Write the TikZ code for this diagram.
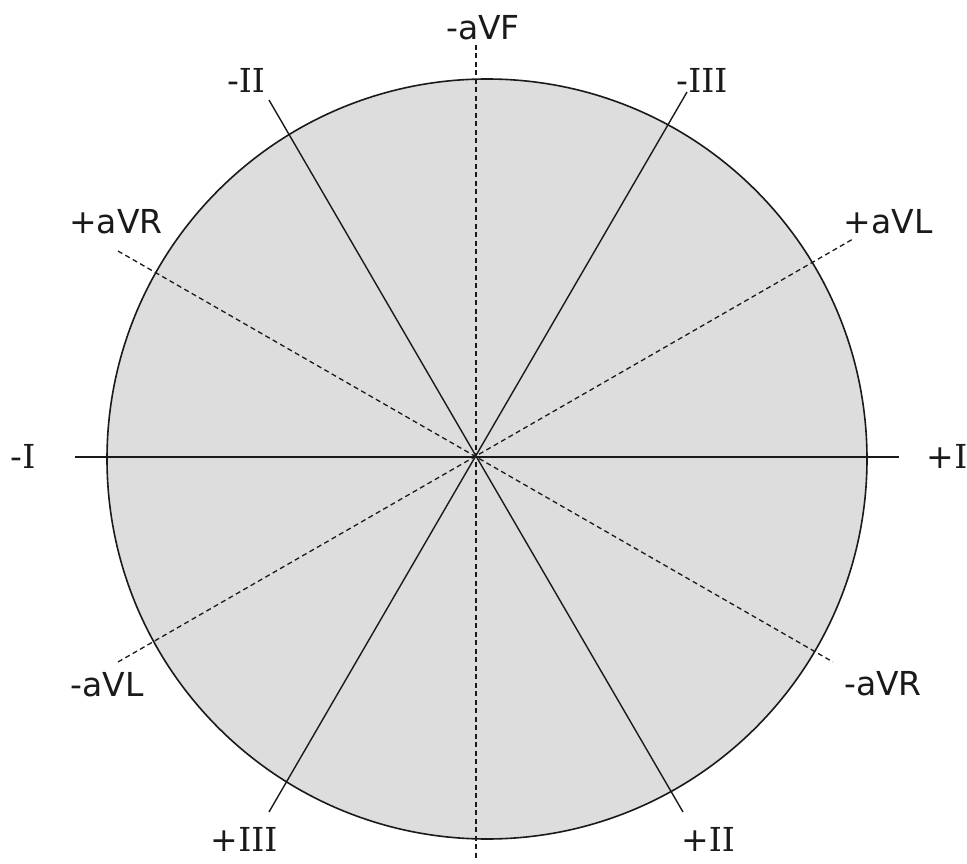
\documentclass[tikz,border=0pt]{standalone}
\usepackage{fontspec}
\setmainfont{DejaVu Sans}
\newfontfamily\romI{DejaVu Serif}
\newcommand{\RI}[1]{{\romI #1}}
\definecolor{diskfill}{HTML}{DDDDDD}
\definecolor{ink}{HTML}{1A1A1A}
\begin{document}
\begin{tikzpicture}[x=1pt,y=-1pt,
  solidlead/.style={draw=ink, line width=1.4pt},
  dashlead/.style={draw=ink, line width=1.3pt, dash pattern=on 5pt off 3.5pt},
  leadlabel/.style={inner sep=0pt, text=ink, font=\fontsize{33}{33}\selectfont}]
\useasboundingbox (0,0) rectangle (967,864);
\fill[white] (0,0) rectangle (967,864);
\node[circle, minimum size=760pt, inner sep=0pt, draw=ink, line width=1.6pt, fill=diskfill] (disk) at (487,459) {};
\coordinate (ctr) at (476,457);
% end points
\coordinate (mI) at (75,457);
\coordinate (pI) at (899,457);
\coordinate (maVF) at (476,45);
\coordinate (paVF) at (476,859);
\coordinate (mII) at (269,100);
\coordinate (pII) at (683,812);
\coordinate (mIII) at (687,92);
\coordinate (pIII) at (269,812);
\coordinate (paVR) at (118,251);
\coordinate (maVR) at (833,662);
\coordinate (maVL) at (118,662);
\coordinate (paVL) at (853,239);
% lead axes
\draw[dashlead] (maVF) -- (paVF);
\draw[dashlead] (paVR) -- (maVR);
\draw[dashlead] (maVL) -- (paVL);
\draw[solidlead] (mI) -- (pI);
\draw[solidlead] (mII) -- (pII);
\draw[solidlead] (mIII) -- (pIII);
% labels
\node[leadlabel] (tmaVF) at (483,28) {-aVF};
\node[leadlabel] (tmII) at (246,80) {-\RI{II}};
\node[leadlabel] (tmIII) at (702,80) {-\RI{III}};
\node[leadlabel] (tpaVR) at (116,222) {+aVR};
\node[leadlabel] (tpaVL) at (888,222) {+aVL};
\node[leadlabel] (tmI) at (23,456) {-\RI{I}};
\node[leadlabel] (tpI) at (947,456) {+\RI{I}};
\node[leadlabel] (tmaVL) at (107,685) {-aVL};
\node[leadlabel] (tmaVR) at (883,684) {-aVR};
\node[leadlabel] (tpIII) at (244,839) {+\RI{III}};
\node[leadlabel] (tpII) at (708,839) {+\RI{II}};
\end{tikzpicture}
\end{document}
